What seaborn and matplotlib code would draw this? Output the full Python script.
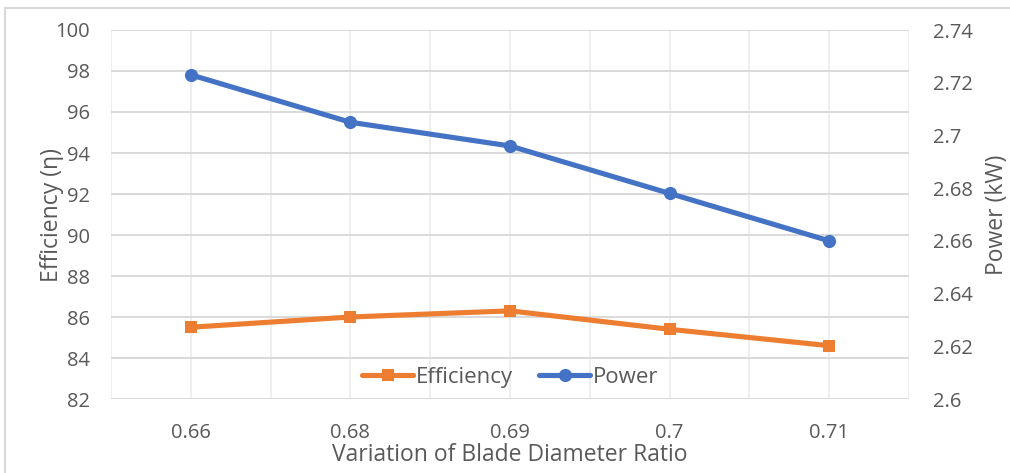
import matplotlib
matplotlib.use("Agg")
import matplotlib.pyplot as plt
import seaborn as sns
import pandas as pd
from matplotlib.patches import Rectangle
from matplotlib.lines import Line2D

# Blade diameter ratio categories and measured results
ratios = ["0.66", "0.68", "0.69", "0.7", "0.71"]
efficiency = [85.5, 86.0, 86.3, 85.4, 84.6]
power_kw = [2.723, 2.705, 2.696, 2.678, 2.660]

eff_ticks = [82, 84, 86, 88, 90, 92, 94, 96, 98, 100]
pow_ticks = [2.6, 2.62, 2.64, 2.66, 2.68, 2.7, 2.72, 2.74]
pow_tick_labels = ["2.6", "2.62", "2.64", "2.66", "2.68", "2.7", "2.72", "2.74"]

sns.set_theme(style="white")
plt.rcParams["font.family"] = ["Open Sans", "DejaVu Sans"]

ORANGE = "#ED7D31"
BLUE = "#4472C4"
TEXT = "#595959"

df = pd.DataFrame({"pos": range(len(ratios)), "ratio": ratios,
                   "efficiency": efficiency, "power": power_kw})

fig = plt.figure(figsize=(10.10, 4.73), dpi=100)
ax = fig.add_axes([111 / 1010, 1 - 399 / 473, (909 - 111) / 1010, (399 - 30) / 473])
ax2 = ax.twinx()

# chart frame
fig.patches.append(Rectangle((4.5 / 1010, -0.1), 1.2, 1 - 8.5 / 473 + 0.1,
                             transform=fig.transFigure, fill=False,
                             edgecolor="#D9D9D9", linewidth=1.5, zorder=0))

LW = 3.7
sns.lineplot(data=df, x="pos", y="efficiency", ax=ax, color=ORANGE,
             linewidth=LW, marker="s", markersize=9, markeredgewidth=0,
             zorder=3)
sns.lineplot(data=df, x="pos", y="power", ax=ax2, color=BLUE,
             linewidth=LW, marker="o", markersize=9.5, markeredgewidth=0,
             zorder=3)

ax.set_xlim(-0.5, len(ratios) - 0.5)
ax.set_ylim(82, 100)
ax2.set_ylim(2.6, 2.74)

ax.set_yticks(eff_ticks)
ax.set_yticklabels([str(t) for t in eff_ticks])
ax2.set_yticks(pow_ticks)
ax2.set_yticklabels(pow_tick_labels)
ax.set_xticks(range(len(ratios)))
ax.set_xticklabels(ratios)

# gridlines
for y in eff_ticks:
    ax.axhline(y, color="#D9D9D9", linewidth=1.4, zorder=1)
for i in range(2 * len(ratios) + 1):
    ax.axvline(-0.5 + 0.5 * i, color="#EBEBEB", linewidth=1.2, zorder=0.5)

for a in (ax, ax2):
    for s in a.spines.values():
        s.set_visible(False)
    a.tick_params(length=0, labelsize=14.5, labelcolor=TEXT)
ax.tick_params(axis="y", pad=15)
ax2.tick_params(axis="y", pad=17)
ax.tick_params(axis="x", pad=17)

ax.set_xlabel("Variation of Blade Diameter Ratio", fontsize=16.5, color=TEXT, labelpad=0)
ax.set_ylabel("Efficiency (η)", fontsize=16.5, color=TEXT, labelpad=-6)
ax2.set_ylabel("Power (kW)", fontsize=16.5, color=TEXT, labelpad=9, rotation=90)

for a in (ax, ax2):
    if a.get_legend() is not None:
        a.get_legend().remove()
handles = [
    Line2D([], [], color=ORANGE, linewidth=LW, marker="s", markersize=9, markeredgewidth=0),
    Line2D([], [], color=BLUE, linewidth=LW, marker="o", markersize=9.5, markeredgewidth=0),
]
leg = ax.legend(handles, ["Efficiency", "Power"], loc="lower center",
                bbox_to_anchor=(0.5, -0.025), ncol=2, frameon=False,
                fontsize=16, handlelength=2.3, handletextpad=0.1,
                columnspacing=1.2)
for t in leg.get_texts():
    t.set_color(TEXT)

fig.savefig("out.png", dpi=100)
